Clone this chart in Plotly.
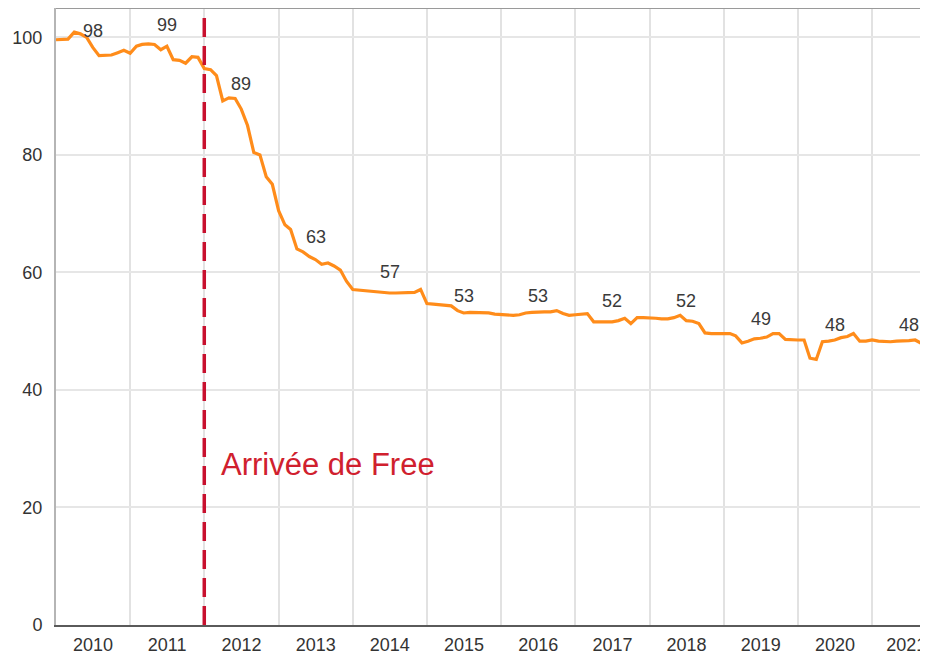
import plotly.graph_objects as go
import pandas as pd

# Monthly index values (Jan 2010 -> Oct 2021)
values = [
    99.6, 99.6, 99.7, 100.9, 100.6, 100.0, 98.3, 96.9, 97.0, 97.0, 97.4, 97.8,   # 2010
    97.3, 98.5, 98.8, 98.9, 98.8, 97.9, 98.5, 96.2, 96.1, 95.6, 96.7, 96.6,      # 2011
    94.7, 94.5, 93.5, 89.2, 89.7, 89.6, 87.8, 85.0, 80.4, 80.0, 76.3, 75.0,      # 2012
    70.5, 68.1, 67.3, 64.0, 63.5, 62.7, 62.2, 61.4, 61.6, 61.1, 60.4, 58.5,      # 2013
    57.1, 57.0, 56.9, 56.7, 56.6, 56.6, 56.5, 56.5, 56.5, 56.6, 56.6, 57.1,      # 2014
    54.7, 54.6, 54.5, 54.4, 54.3, 53.5, 53.1, 53.2, 53.2, 53.2, 53.1, 52.9,      # 2015
    52.8, 52.7, 52.7, 52.8, 53.1, 53.2, 53.3, 53.3, 53.3, 53.5, 53.0, 52.7,      # 2016
    52.8, 52.9, 53.0, 51.6, 51.6, 51.6, 51.6, 51.8, 52.2, 51.3, 52.3, 52.3,      # 2017
    52.3, 52.2, 52.1, 52.1, 52.3, 52.7, 51.8, 51.7, 51.3, 49.7, 49.6, 49.6,      # 2018
    49.6, 49.6, 49.2, 48.0, 48.3, 48.7, 48.8, 49.0, 49.6, 49.6, 48.6, 48.5,      # 2019
    48.5, 48.5, 45.4, 45.2, 48.2, 48.3, 48.5, 48.9, 49.1, 49.6, 48.3, 48.3,      # 2020
    48.5, 48.3, 48.2, 48.2, 48.3, 48.3, 48.4, 48.5, 47.9, 48.2,                  # 2021
]
dates = pd.date_range("2010-01-01", periods=len(values), freq="MS")

years = list(range(2010, 2022))
year_labels = [str(y) for y in years]
annual_labels = [98, 99, 89, 63, 57, 53, 53, 52, 52, 49, 48, 48]

y_ticks = [0, 20, 40, 60, 80, 100]
event_date = "2012-01-01"
event_text = "Arrivée de Free"

FONT = "Liberation Sans, Arial, sans-serif"
ORANGE = "#FF8C1A"
RED = "#C8102E"

x_start = pd.Timestamp("2010-01-01")
x_end = pd.Timestamp("2021-10-03")

year_start = [pd.Timestamp(f"{y}-01-01") for y in years]
mid_year = [pd.Timestamp(f"{y}-07-02") for y in years]
# year-axis labels centred on the visible part of each year
tick_pos = [s + (min(pd.Timestamp(f"{y + 1}-01-01"), x_end + pd.Timedelta(days=60)) - s) / 2
            for s, y in zip(year_start, years)]

fig = go.Figure()
fig.add_trace(go.Scatter(
    x=dates, y=values, mode="lines",
    line=dict(color=ORANGE, width=3.2),
    hoverinfo="skip", showlegend=False,
))

for xm, lab in zip(mid_year, annual_labels):
    fig.add_annotation(
        x=xm, y=lab, text=str(lab), showarrow=False,
        yshift=18, xanchor="center", yanchor="middle",
        font=dict(family=FONT, size=18, color="#3a3a3a"),
    )

# Event line
fig.add_shape(type="line", xref="x", yref="paper", x0=event_date, x1=event_date,
              y0=0, y1=1, line=dict(color=RED, width=3.5, dash="19px,9px"), layer="above")
fig.add_annotation(
    x=event_date, y=27.3, text=event_text, showarrow=False,
    xanchor="left", yanchor="middle", xshift=15,
    font=dict(family=FONT, size=31, color="#D0202E"),
)

# top border
fig.add_shape(type="line", xref="paper", yref="paper", x0=0, x1=1, y0=1, y1=1,
              line=dict(color="#9a9a9a", width=2), layer="above")

# The page body adds an 8px offset; margins compensate for it.
fig.update_layout(
    width=928, height=655,
    margin=dict(l=48, r=8, t=0, b=38),
    paper_bgcolor="white", plot_bgcolor="white",
    font=dict(family=FONT, size=18, color="#333333"),
    showlegend=False,
)
fig.update_xaxes(
    type="date", range=[x_start, x_end],
    tickmode="array", tickvals=tick_pos, ticktext=year_labels,
    showgrid=False,
    minor=dict(tickmode="array", tickvals=year_start, showgrid=True,
               gridcolor="#e2e2e2", gridwidth=2, ticks=""),
    showline=True, linecolor="#5a5a5a", linewidth=2,
    ticks="outside", ticklen=2, tickcolor="rgba(0,0,0,0)",
    tickfont=dict(family=FONT, size=18, color="#333333"),
    zeroline=False,
)
fig.update_yaxes(
    range=[0, 105], tickvals=y_ticks,
    showgrid=True, gridcolor="#e6e6e6", gridwidth=2,
    showline=True, linecolor="#b5b5b5", linewidth=2,
    ticks="outside", ticklen=8, tickcolor="rgba(0,0,0,0)",
    tickfont=dict(family=FONT, size=18, color="#333333"),
    zeroline=False,
)

fig.write_html("out.html")
